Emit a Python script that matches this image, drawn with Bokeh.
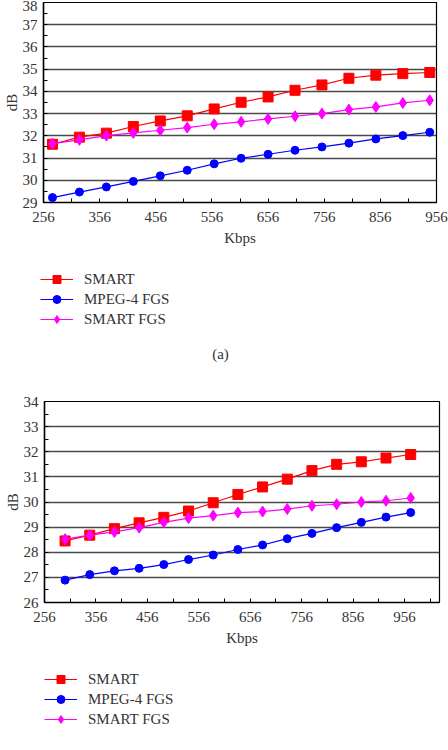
from bokeh.plotting import figure
from bokeh.models import (Legend, LegendItem, FixedTicker, Label, Range1d)
from bokeh.layouts import column
from bokeh.embed import file_html
from bokeh.resources import INLINE

# ---------------- data (a) ----------------
kbps_a = [272, 320, 368, 416, 464, 512, 560, 608, 656, 704, 752, 800, 848, 896, 944]
smart_a = [31.62, 31.94, 32.12, 32.42, 32.67, 32.90, 33.21, 33.51, 33.75, 34.05, 34.29, 34.59, 34.73, 34.80, 34.85]
mpeg4_a = [29.22, 29.47, 29.70, 29.95, 30.20, 30.45, 30.74, 30.99, 31.17, 31.35, 31.50, 31.67, 31.86, 32.01, 32.16]
smartfgs_a = [31.65, 31.82, 32.01, 32.13, 32.25, 32.37, 32.52, 32.63, 32.76, 32.88, 33.00, 33.18, 33.30, 33.48, 33.60]

# ---------------- data (b) ----------------
kbps_b = [296, 344, 392, 440, 488, 536, 584, 632, 680, 728, 776, 824, 872, 920, 968]
smart_b = [28.45, 28.68, 28.94, 29.17, 29.39, 29.64, 29.97, 30.30, 30.60, 30.91, 31.25, 31.50, 31.60, 31.75, 31.89]
mpeg4_b = [26.89, 27.11, 27.26, 27.36, 27.51, 27.71, 27.89, 28.11, 28.29, 28.54, 28.75, 28.98, 29.19, 29.40, 29.58]
smartfgs_b = [28.52, 28.68, 28.81, 28.98, 29.19, 29.36, 29.46, 29.58, 29.62, 29.72, 29.85, 29.91, 30.00, 30.05, 30.16]

x_ticks = [256, 356, 456, 556, 656, 756, 856, 956]
x_minor = [306, 406, 506, 606, 706, 806, 906, 1006]
series_names = ["SMART", "MPEG-4 FGS", "SMART FGS"]
captions = ["(a)", "(b)"]

FONT = "Liberation Serif"
TXT = "#333333"
COLORS = ["#ff0000", "#0000ff", "#ff00ff"]
MARKERS = ["square", "circle", "diamond"]
MSIZES = [10, 8, 11]


def make_chart(xs, ys_list, x_end, y_lo, y_hi, height, borders):
    left, right, top, bottom = borders
    p = figure(width=448, height=height, output_backend="svg", toolbar_location=None,
               x_range=Range1d(256, x_end), y_range=Range1d(y_lo, y_hi),
               min_border_left=left, min_border_right=right,
               min_border_top=top, min_border_bottom=bottom)
    p.frame_align = False
    p.outline_line_color = "black"
    p.outline_line_width = 1.2
    p.background_fill_color = "white"
    p.border_fill_color = "white"

    p.xaxis.ticker = FixedTicker(ticks=x_ticks, minor_ticks=x_minor)
    p.yaxis.ticker = FixedTicker(ticks=list(range(y_lo, y_hi + 1)),
                                 minor_ticks=[v + 0.5 for v in range(y_lo, y_hi)])
    for ax in (p.xaxis[0], p.yaxis[0]):
        ax.axis_line_color = "black"
        ax.axis_line_width = 1.5
        ax.major_tick_in = 4
        ax.major_tick_out = 0
        ax.minor_tick_in = 4
        ax.minor_tick_out = 0
        ax.major_tick_line_color = "black"
        ax.minor_tick_line_color = "black"
        ax.major_label_text_font = FONT
        ax.major_label_text_font_size = "15px"
        ax.major_label_text_color = TXT
        ax.axis_label_text_font = FONT
        ax.axis_label_text_font_size = "15px"
        ax.axis_label_text_font_style = "normal"
        ax.axis_label_text_color = TXT
    p.xaxis.axis_label = "Kbps"
    p.yaxis.axis_label = "dB"
    p.xaxis.major_label_standoff = 9
    p.xaxis.axis_label_standoff = 5
    p.yaxis.major_label_standoff = 6
    p.yaxis.axis_label_standoff = 0

    p.xgrid.grid_line_color = None
    p.ygrid.grid_line_color = "#4a4a4a"
    p.ygrid.grid_line_width = 1.4

    for ys, c, m, s in zip(ys_list, COLORS, MARKERS, MSIZES):
        p.line(xs, ys, line_color=c, line_width=1.2)
        p.scatter(xs, ys, marker=m, size=s, fill_color=c, line_color=c)
    return p


def make_legend(xs, ys_list, height, leg_loc, caption, cap_loc):
    # the series are drawn again here only to feed the legend samples;
    # the ranges keep them outside of this strip, so nothing of them shows
    q = figure(width=448, height=height, output_backend="svg", toolbar_location=None,
               x_range=Range1d(0, 1), y_range=Range1d(0, 1),
               x_axis_location=None, y_axis_location=None,
               min_border_left=0, min_border_right=0,
               min_border_top=0, min_border_bottom=0)
    q.frame_align = False
    q.outline_line_color = None
    q.xgrid.grid_line_color = None
    q.ygrid.grid_line_color = None
    items = []
    for name, ys, c, m in zip(series_names, ys_list, COLORS, MARKERS):
        r1 = q.line(xs, ys, line_color=c, line_width=1.2)
        r2 = q.scatter(xs, ys, marker=m, fill_color=c, line_color=c)
        items.append(LegendItem(label=name, renderers=[r1, r2]))
    leg = Legend(items=items, location=leg_loc, orientation="vertical",
                 glyph_width=33, glyph_height=20, label_height=20, spacing=0,
                 label_standoff=11, padding=0, margin=0,
                 border_line_color=None, background_fill_alpha=0,
                 label_text_font=FONT, label_text_font_size="15px",
                 label_text_color=TXT)
    q.add_layout(leg)
    cap = Label(x=cap_loc[0], y=cap_loc[1], x_units="screen", y_units="screen",
                text=caption, text_font=FONT, text_font_size="15px",
                text_color=TXT, text_align="center", text_baseline="middle")
    q.add_layout(cap)
    return q


ys_a = [smart_a, mpeg4_a, smartfgs_a]
ys_b = [smart_b, mpeg4_b, smartfgs_b]
p1 = make_chart(kbps_a, ys_a, 956, 29, 38, 255, (39, 12, 2, 53))
l1 = make_legend(kbps_a, ys_a, 120, (40, 46), captions[0], (220, 22))
p2 = make_chart(kbps_b, ys_b, 1024, 26, 34, 280, (44, 9, 26, 53))
l2 = make_legend(kbps_b, ys_b, 95, (44, 21), captions[1], (221, -4))

layout = column(p1, l1, p2, l2, spacing=0)
open("out.html", "w").write(file_html(layout, INLINE))
